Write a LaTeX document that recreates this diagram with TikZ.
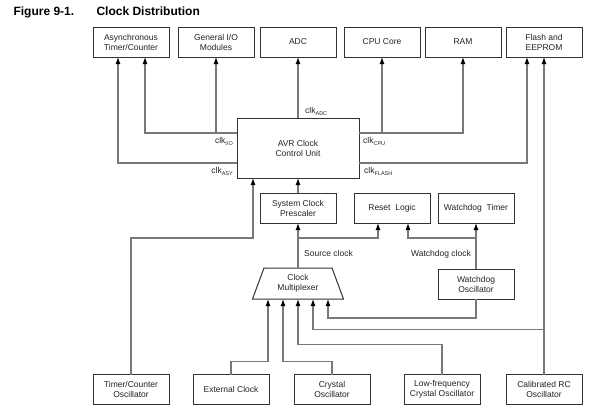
\documentclass[tikz,border=0pt]{standalone}
\usepackage{fontspec}
\setmainfont{Liberation Sans}
\usetikzlibrary{positioning,calc,arrows.meta,shapes.geometric}
\definecolor{linegray}{HTML}{787878}
\definecolor{boxgray}{HTML}{333333}
\definecolor{textgray}{HTML}{222222}
\newcommand\clksub[1]{clk\raisebox{-2.5pt}{\fontsize{5.5}{6}\selectfont #1}}
\tikzset{
	block/.style={draw=boxgray, line width=1pt, outer sep=0pt, minimum width=76pt, minimum height=30pt, align=center, inner sep=1pt, text=textgray, font=\fontsize{8.5}{10}\selectfont},
	conn/.style={draw=linegray, line width=1.1pt, -{Latex[length=7pt,width=5pt,color=black]}},
	lbl/.style={inner sep=1pt, text=textgray, font=\fontsize{8.5}{10}\selectfont},
	heading/.style={anchor=base west, font=\fontsize{12}{14}\selectfont\bfseries},
}
\begin{document}
\begin{tikzpicture}
	\useasboundingbox (0,0) rectangle (597pt,-416pt);
	\node[heading] (fig) at (10pt,-15pt) {Figure 9-1.};
	\node[heading] (title) at (93pt,-15pt) {Clock Distribution};

	\node[block] (async) at (131pt,-42pt) {Asynchronous\\Timer/Counter};
	\node[block, right=9pt of async] (gio) {General I/O\\Modules};
	\node[block, right=6pt of gio] (adc) {ADC};
	\node[block, right=8pt of adc] (core) {CPU Core};
	\node[block, right=5pt of core] (ram) {RAM};
	\node[block, right=5pt of ram] (eeprom) {Flash and\\EEPROM};

	\node[block, minimum width=122pt, minimum height=60pt, below=61pt of adc] (avr) {AVR Clock\\Control Unit};
	\node[block, below=15pt of avr] (pre) {System Clock\\Prescaler};
	\node[block, right=18pt of pre] (reset) {Reset\ \ Logic};
	\node[block, right=8pt of reset] (wdt) {Watchdog\ \ Timer};
	\node[block, trapezium, trapezium angle=60, trapezium stretches body, minimum width=91pt, minimum height=31pt, below=45pt of pre] (mux) {Clock\\Multiplexer};
	\node[block, below=46pt of wdt] (wdo) {Watchdog\\Oscillator};

	\node[block] (tco) at (131pt,-389.5pt) {Timer/Counter\\Oscillator};
	\node[block, right=24pt of tco] (ext) {External Clock};
	\node[block, right=25pt of ext] (xtal) {Crystal\\Oscillator};
	\node[block, right=34pt of xtal] (lf) {Low-frequency\\Crystal Oscillator};
	\node[block, right=26pt of lf] (rc) {Calibrated RC\\Oscillator};

	\coordinate (io) at ($(avr.north west)+(0,-15pt)$);
	\coordinate (asy) at ($(avr.south west)+(0,15pt)$);
	\coordinate (cpu) at ($(avr.north east)+(0,-15pt)$);
	\coordinate (fl) at ($(avr.south east)+(0,15pt)$);
	\coordinate (asyin) at ($(avr.south west)+(16pt,0)$);
	\coordinate (src) at ($(pre.south)+(0,-15pt)$);
	\coordinate (wdc) at (wdt.south |- src);

	\draw[conn] (io) -| ($(async.south)+(14pt,0)$);
	\draw[conn] (gio.south |- io) -- (gio.south);
	\draw[conn] (asy) -| ($(async.south)+(-13pt,0)$);
	\draw[conn] (avr.north) -- (adc.south);
	\draw[conn] (cpu) -| (ram.south);
	\draw[conn] (core.south |- cpu) -- (core.south);
	\draw[conn] (fl) -| ($(eeprom.south)+(-17pt,0)$);
	\draw[conn] (rc.north) -- (eeprom.south);
	\draw[conn] (pre.north) -- (pre.north |- avr.south);
	\draw[conn] (tco.north) |- (src -| asyin) -- (asyin);
	\draw[conn] (mux.north) -- (pre.south);
	\draw[conn] (src) -| ($(reset.south)+(-14pt,0)$);
	\draw[conn] (wdo.north) -- (wdt.south);
	\draw[conn] (wdc) -| ($(reset.south)+(16pt,0)$);

	\draw[conn] (ext.north) -- ++(0,13pt) -| ($(mux.south)+(-30pt,0)$);
	\draw[conn] (xtal.north) -- ++(0,13pt) -| ($(mux.south)+(-15pt,0)$);
	\draw[conn] (lf.north) -- ++(0,30pt) -| (mux.south);
	\draw[conn] (rc.north) ++(0,45pt) -| ($(mux.south)+(15pt,0)$);
	\draw[conn] (wdo.south) -- ++(0,-19pt) -| ($(mux.south)+(30pt,0)$);

	\node[lbl, below left=3pt and 3pt of io] (lio) {\clksub{I/O}};
	\node[lbl, below left=3pt and 3pt of asy] (lasy) {\clksub{ASY}};
	\node[lbl, above right=1pt and 6pt of avr.north] (ladc) {\clksub{ADC}};
	\node[lbl, below right=3pt and 3pt of cpu] (lcpu) {\clksub{CPU}};
	\node[lbl, below right=3pt and 4pt of fl] (lflash) {\clksub{FLASH}};
	\node[lbl, below right=11pt and 5pt of src] (lsrc) {Source clock};
	\node[lbl, below left=11pt and 4pt of wdc] (lwdc) {Watchdog clock};
\end{tikzpicture}
\end{document}
